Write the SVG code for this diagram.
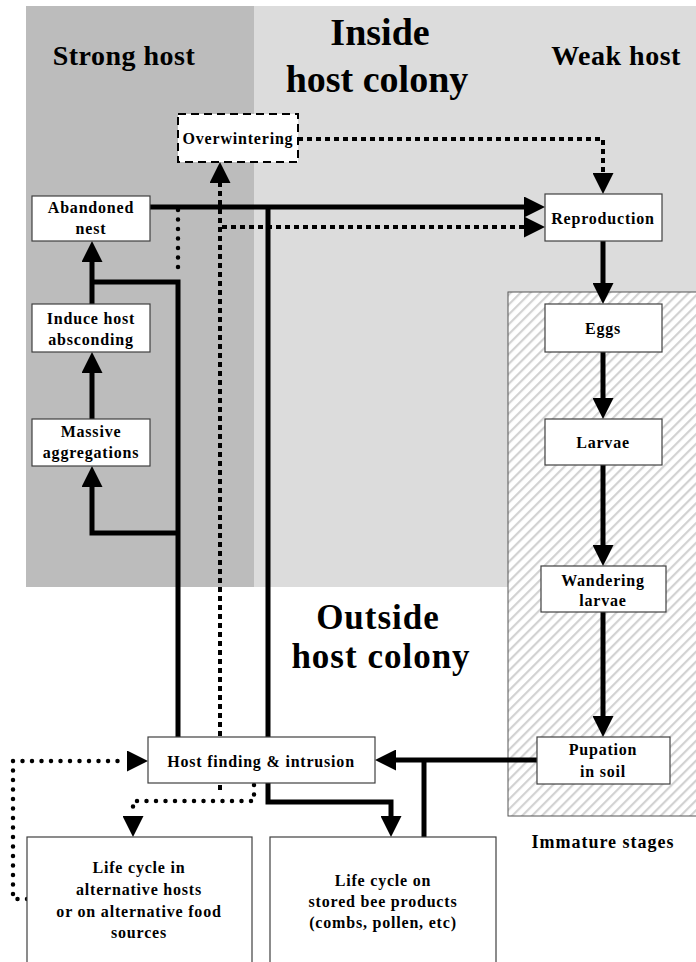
<svg xmlns="http://www.w3.org/2000/svg" width="696" height="962" viewBox="0 0 696 962">
<style>
.node rect{fill:#fff;stroke:#404040;stroke-width:1.2}
.t{font-family:"Liberation Serif","Times New Roman",serif;font-weight:bold;font-size:16px;letter-spacing:0.8px;text-anchor:middle;fill:#000}
.big{font-family:"Liberation Serif","Times New Roman",serif;font-weight:bold;font-size:38px;text-anchor:middle;fill:#000}
.mid{font-family:"Liberation Serif","Times New Roman",serif;font-weight:bold;font-size:28px;letter-spacing:0.5px;text-anchor:middle;fill:#000}
.thick{fill:none;stroke:#000;stroke-width:5}
.sq{fill:none;stroke:#000;stroke-width:4;stroke-dasharray:5 4}
.rd{fill:none;stroke:#000;stroke-width:4.5;stroke-linecap:round;stroke-dasharray:0 9.5}
</style>
<defs>
<marker id="ah" markerUnits="userSpaceOnUse" markerWidth="21" markerHeight="21" refX="0" refY="10.5" orient="auto" viewBox="0 0 21 21">
<path d="M0,0 L21,10.5 L0,21 z" fill="#000"/>
</marker>
<pattern id="hatch" patternUnits="userSpaceOnUse" width="7" height="7" patternTransform="rotate(45)">
<rect width="7" height="7" fill="#fff"/>
<rect x="0" y="0" width="2.2" height="7" fill="#d2d2d2"/>
</pattern>
</defs>

<g id="background">
<rect x="26" y="6" width="228" height="581" fill="#bcbcbc"/>
<rect x="254" y="6" width="442" height="581" fill="#dcdcdc"/>
<rect x="508" y="292" width="190" height="524" fill="url(#hatch)" stroke="#555" stroke-width="1"/>
</g>

<g id="labels">
<text class="mid" x="124" y="65">Strong host</text>
<text class="mid" x="616" y="65">Weak host</text>
<text class="big" x="380" y="45">Inside</text>
<text class="big" x="377" y="92">host colony</text>
<text class="big" x="378" y="629" style="font-size:35px;letter-spacing:1px">Outside</text>
<text class="big" x="381" y="668" style="font-size:35px;letter-spacing:1px">host colony</text>
<text class="t" x="603" y="848" style="font-size:18px;letter-spacing:1px">Immature stages</text>
</g>

<g id="connectors">
<path class="thick" d="M150,207 H524" marker-end="url(#ah)"/>
<path class="thick" d="M178,737 V282 H92"/>
<path class="thick" d="M178,533 H92 V487" marker-end="url(#ah)"/>
<path class="thick" d="M92,304 V262" marker-end="url(#ah)"/>
<path class="thick" d="M92,419 V373" marker-end="url(#ah)"/>
<path class="thick" d="M268,207 V802 H391 V816" marker-end="url(#ah)"/>
<path class="thick" d="M603,241 V283" marker-end="url(#ah)"/>
<path class="thick" d="M603,352 V398" marker-end="url(#ah)"/>
<path class="thick" d="M603,465 V545" marker-end="url(#ah)"/>
<path class="thick" d="M603,612 V716" marker-end="url(#ah)"/>
<path class="thick" d="M537,760 H396" marker-end="url(#ah)"/>
<path class="thick" d="M424,837 V760"/>
<path class="sq" d="M220,790 V183" marker-end="url(#ah)"/>
<path class="sq" d="M222,227 H524" marker-end="url(#ah)"/>
<path class="sq" d="M298,139 H603 V173" marker-end="url(#ah)"/>
<path class="rd" d="M178,210 V275"/>
<path class="rd" d="M27,899 H13 V761 H127" marker-end="url(#ah)"/>
<path class="rd" d="M254,785 V801 H133 V816" marker-end="url(#ah)"/>
</g>

<g id="overwintering">
<rect x="178" y="114" width="120" height="48" fill="#fff" stroke="#000" stroke-width="2" stroke-dasharray="8 5"/>
<text class="t" x="238" y="144">Overwintering</text>
</g>
<g id="abandoned-nest" class="node">
<rect x="32" y="196" width="118" height="45"/>
<text class="t" x="91" y="213">Abandoned</text>
<text class="t" x="91" y="234">nest</text>
</g>
<g id="induce-host-absconding" class="node">
<rect x="32" y="304" width="118" height="48"/>
<text class="t" x="91" y="324">Induce host</text>
<text class="t" x="91" y="345">absconding</text>
</g>
<g id="massive-aggregations" class="node">
<rect x="32" y="419" width="118" height="47"/>
<text class="t" x="91" y="437">Massive</text>
<text class="t" x="91" y="458">aggregations</text>
</g>
<g id="reproduction" class="node">
<rect x="545" y="194" width="117" height="47"/>
<text class="t" x="603" y="224">Reproduction</text>
</g>
<g id="eggs" class="node">
<rect x="545" y="304" width="117" height="48"/>
<text class="t" x="603" y="334">Eggs</text>
</g>
<g id="larvae" class="node">
<rect x="545" y="419" width="117" height="46"/>
<text class="t" x="603" y="448">Larvae</text>
</g>
<g id="wandering-larvae" class="node">
<rect x="541" y="566" width="125" height="46"/>
<text class="t" x="603" y="586">Wandering</text>
<text class="t" x="603" y="606">larvae</text>
</g>
<g id="pupation" class="node">
<rect x="537" y="737" width="133" height="47"/>
<text class="t" x="603" y="755">Pupation</text>
<text class="t" x="603" y="777">in soil</text>
</g>
<g id="host-finding" class="node">
<rect x="148" y="737" width="227" height="46"/>
<text class="t" x="261" y="767">Host finding &amp; intrusion</text>
</g>
<g id="life-cycle-alternative" class="node">
<rect x="27" y="837" width="225" height="140"/>
<text class="t" x="139" y="873">Life cycle in</text>
<text class="t" x="139" y="895">alternative hosts</text>
<text class="t" x="139" y="917">or on alternative food</text>
<text class="t" x="139" y="938">sources</text>
</g>
<g id="life-cycle-stored" class="node">
<rect x="270" y="837" width="226" height="140"/>
<text class="t" x="383" y="886">Life cycle on</text>
<text class="t" x="383" y="907">stored bee products</text>
<text class="t" x="383" y="928">(combs, pollen, etc)</text>
</g>
</svg>
